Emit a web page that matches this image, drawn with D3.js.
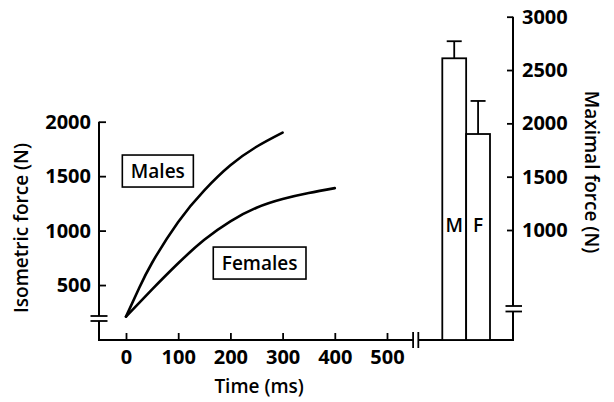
<!DOCTYPE html>
<html>
<head>
<meta charset="utf-8">
<script src="https://cdn.jsdelivr.net/npm/d3@7"></script>
<style>
  html, body { margin: 0; padding: 0; background: #fff; }
  svg { display: block; font-family: "Open Sans", "Noto Sans", sans-serif; }
  text { fill: #000; }
</style>
</head>
<body>
<svg id="chart" width="614" height="402"></svg>
<script>
// ---- data ----
const timeTicks = [0, 100, 200, 300, 400, 500];
const leftTicks = [500, 1000, 1500, 2000];
const rightTicks = [1000, 1500, 2000, 2500, 3000];

const timeMales = [0, 25, 50, 100, 150, 200, 250, 300];
const forceMales = [210, 470, 705, 1080, 1370, 1600, 1770, 1900];
const timeFemales = [0, 50, 100, 150, 200, 250, 300, 350, 400];
const forceFemales = [210, 460, 700, 915, 1085, 1210, 1290, 1345, 1390];

const seriesNames = ["Males", "Females"];
const seriesLabelTime = [61, 256];
const seriesLabelForce = [1547, 702];

const barNames = ["M", "F"];
const barValues = [2610, 1900];
const barErrors = [2770, 2210];
const barLabelForce = 1045;

// ---- layout ----
const svg = d3.select("#chart");
const x = d3.scaleLinear().domain([0, 500]).range([126, 387]);
const yL = d3.scaleLinear().domain([0, 2000]).range([339.5, 121.7]);
const yR = d3.scaleLinear().domain([1000, 3000]).range([230, 16.7]);
const xBar = d3.scaleBand().domain(barNames).range([442.3, 490]).padding(0);

const leftX = 99, rightX = 513, baseY = 340;
const tickFont = "700 20px 'Open Sans', 'Noto Sans', sans-serif";
const font = "600 19px 'Open Sans', 'Noto Sans', sans-serif";
const axisW = 2;

const g = svg.append("g");

// left axis line with break
g.append("line").attr("x1", leftX).attr("x2", leftX).attr("y1", yL(2000)).attr("y2", 316)
  .attr("stroke", "#000").attr("stroke-width", axisW);
g.append("line").attr("x1", leftX).attr("x2", leftX).attr("y1", 321).attr("y2", baseY + 1)
  .attr("stroke", "#000").attr("stroke-width", axisW);
[316, 321].forEach(yy => g.append("line").attr("x1", leftX - 8.5).attr("x2", leftX + 8.5)
  .attr("y1", yy).attr("y2", yy).attr("stroke", "#000").attr("stroke-width", 1.8));

// right axis line with break
g.append("line").attr("x1", rightX).attr("x2", rightX).attr("y1", yR(3000)).attr("y2", 306)
  .attr("stroke", "#000").attr("stroke-width", axisW);
g.append("line").attr("x1", rightX).attr("x2", rightX).attr("y1", 311.5).attr("y2", baseY + 1)
  .attr("stroke", "#000").attr("stroke-width", axisW);
[306, 311.5].forEach(yy => g.append("line").attr("x1", rightX - 7.5).attr("x2", rightX + 9)
  .attr("y1", yy).attr("y2", yy).attr("stroke", "#000").attr("stroke-width", 1.8));

// x axis line with break
g.append("line").attr("x1", leftX - 1).attr("x2", x(550)).attr("y1", baseY).attr("y2", baseY)
  .attr("stroke", "#000").attr("stroke-width", axisW);
g.append("line").attr("x1", x(560)).attr("x2", rightX + 1).attr("y1", baseY).attr("y2", baseY)
  .attr("stroke", "#000").attr("stroke-width", axisW);
[x(550), x(560)].forEach(xx => g.append("line").attr("x1", xx).attr("x2", xx)
  .attr("y1", baseY - 8).attr("y2", baseY + 8).attr("stroke", "#000").attr("stroke-width", 1.8));

// axes ticks and labels via d3 axes
const fmt = d3.format("d");
const axLeft = g.append("g").attr("transform", `translate(${leftX},0)`)
  .call(d3.axisLeft(yL).tickValues(leftTicks).tickFormat(fmt).tickSizeInner(-7).tickSizeOuter(0).tickPadding(8));
const axRight = g.append("g").attr("transform", `translate(${rightX},0)`)
  .call(d3.axisRight(yR).tickValues(rightTicks).tickFormat(fmt).tickSizeInner(-6).tickSizeOuter(0).tickPadding(9));
const axBottom = g.append("g").attr("transform", `translate(0,${baseY})`)
  .call(d3.axisBottom(x).tickValues(timeTicks).tickFormat(fmt).tickSizeInner(-7).tickSizeOuter(0).tickPadding(10));
[axLeft, axRight, axBottom].forEach(a => {
  a.select(".domain").remove();
  a.selectAll(".tick line").attr("stroke", "#000").attr("stroke-width", 1.8);
  a.selectAll(".tick text").style("font", tickFont).attr("fill", "#000");
});

// axis titles
g.append("text").attr("transform", "translate(23,228) rotate(-90)")
  .attr("text-anchor", "middle").attr("dominant-baseline", "middle").style("font", font)
  .text("Isometric force (N)");
g.append("text").attr("transform", "translate(590,172) rotate(90)")
  .attr("text-anchor", "middle").attr("dominant-baseline", "middle").style("font", font)
  .text("Maximal force (N)");
g.append("text").attr("x", x(255)).attr("y", 388)
  .attr("text-anchor", "middle").attr("dominant-baseline", "middle").style("font", font)
  .text("Time (ms)");

// curves
const line = d3.line().x(d => x(d[0])).y(d => yL(d[1])).curve(d3.curveNatural);
const males = d3.zip(timeMales, forceMales);
const females = d3.zip(timeFemales, forceFemales);
[males, females].forEach(s => g.append("path").attr("d", line(s))
  .attr("fill", "none").attr("stroke", "#000").attr("stroke-width", 2.6).attr("stroke-linecap", "round"));

// series labels in boxes
seriesNames.forEach((name, i) => {
  const lg = g.append("g");
  const t = lg.append("text").attr("x", x(seriesLabelTime[i])).attr("y", yL(seriesLabelForce[i]))
    .attr("text-anchor", "middle").attr("dominant-baseline", "central").style("font", font).text(name);
  const bb = t.node().getBBox();
  lg.insert("rect", "text").attr("x", bb.x - 8.5).attr("y", yL(seriesLabelForce[i]) - 16)
    .attr("width", bb.width + 17).attr("height", 32)
    .attr("fill", "#fff").attr("stroke", "#000").attr("stroke-width", 1.6);
});

// bars
barNames.forEach((n, i) => {
  const bx = xBar(n), bw = xBar.bandwidth(), cx = bx + bw / 2;
  g.append("line").attr("x1", cx).attr("x2", cx).attr("y1", yR(barValues[i])).attr("y2", yR(barErrors[i]))
    .attr("stroke", "#000").attr("stroke-width", 1.8);
  g.append("line").attr("x1", cx - 7.5).attr("x2", cx + 7.5).attr("y1", yR(barErrors[i])).attr("y2", yR(barErrors[i]))
    .attr("stroke", "#000").attr("stroke-width", 1.8);
  g.append("rect").attr("x", bx).attr("y", yR(barValues[i])).attr("width", bw)
    .attr("height", baseY - yR(barValues[i]))
    .attr("fill", "#fff").attr("stroke", "#000").attr("stroke-width", 1.8);
  g.append("text").attr("x", cx).attr("y", yR(barLabelForce))
    .attr("text-anchor", "middle").attr("dominant-baseline", "central").style("font", font).text(n);
});
</script>
</body>
</html>
